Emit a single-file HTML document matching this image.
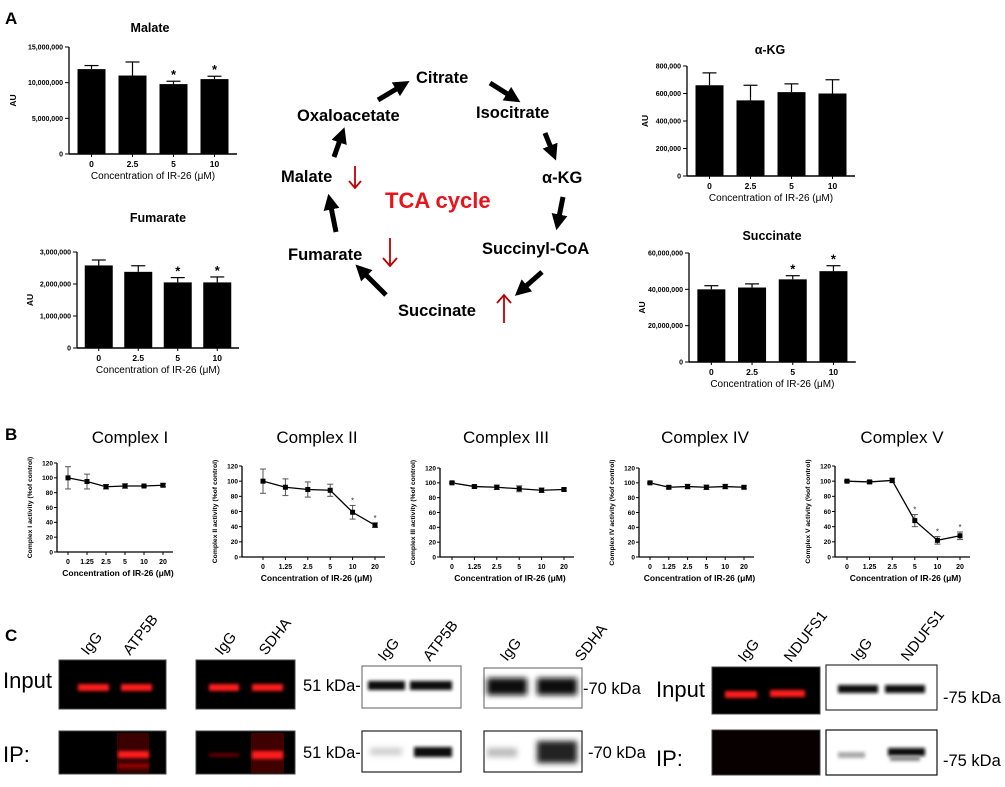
<!DOCTYPE html>
<html><head><meta charset="utf-8"><style>
html,body{margin:0;padding:0;background:#fff}
svg{display:block;font-family:"Liberation Sans",Arial,sans-serif}
</style></head><body>
<svg id="fig" width="1005" height="787" viewBox="0 0 1005 787" xmlns="http://www.w3.org/2000/svg">
<defs>
<filter id="blur1" x="-20%" y="-100%" width="140%" height="300%"><feGaussianBlur stdDeviation="1.6"/></filter>
<filter id="blur2" x="-20%" y="-100%" width="140%" height="300%"><feGaussianBlur stdDeviation="3"/></filter>
<marker id="ah" markerWidth="4" markerHeight="4" refX="2" refY="2" orient="auto" markerUnits="strokeWidth"><path d="M0,0 L4,2 L0,4 z" fill="#000"/></marker>
</defs>
<g id="root"></g>
</svg>
<script>
// ---------- data: panel A bar charts ----------
const barCats = ["0","2.5","5","10"];
const malateVals = [11900000, 11000000, 9800000, 10500000];
const malateErr = [500000, 1900000, 400000, 400000];
const malateSig = [false, false, true, true];
const malateTicks = [0, 5000000, 10000000, 15000000];
const malateTickLabels = ["0","5,000,000","10,000,000","15,000,000"];

const fumarateVals = [2580000, 2380000, 2050000, 2050000];
const fumarateErr = [170000, 190000, 150000, 170000];
const fumarateSig = [false, false, true, true];
const fumarateTicks = [0, 1000000, 2000000, 3000000];
const fumarateTickLabels = ["0","1,000,000","2,000,000","3,000,000"];

const akgVals = [660000, 550000, 610000, 600000];
const akgErr = [90000, 110000, 60000, 100000];
const akgSig = [false, false, false, false];
const akgTicks = [0, 200000, 400000, 600000, 800000];
const akgTickLabels = ["0","200,000","400,000","600,000","800,000"];

const succVals = [40000000, 41000000, 45500000, 50000000];
const succErr = [2000000, 2000000, 2000000, 3000000];
const succSig = [false, false, true, true];
const succTicks = [0, 20000000, 40000000, 60000000];
const succTickLabels = ["0","20,000,000","40,000,000","60,000,000"];

// ---------- data: panel B line charts ----------
const lineCats = ["0","1.25","2.5","5","10","20"];
const yTicksB = [0,20,40,60,80,100,120];
const c1Vals = [100, 95, 88, 89, 89, 90];
const c1Err = [15, 10, 3, 3, 1, 2];
const c1Sig = [false,false,false,false,false,false];
const c2Vals = [100, 92, 89, 88, 59, 42];
const c2Err = [16, 11, 10, 8, 9, 3];
const c2Sig = [false,false,false,false,true,true];
const c3Vals = [100, 95, 94, 92, 90, 91];
const c3Err = [1, 2, 3, 4, 3, 2];
const c3Sig = [false,false,false,false,false,false];
const c4Vals = [100, 94, 95, 94, 95, 94];
const c4Err = [1, 2, 3, 3, 3, 2];
const c4Sig = [false,false,false,false,false,false];
const c5Vals = [100, 99, 101, 48, 22, 28];
const c5Err = [1, 2, 3, 8, 5, 5];
const c5Sig = [false,false,false,true,true,true];

const NS = "http://www.w3.org/2000/svg";
const root = document.getElementById("root");
function mk(tag, attrs, parent, text){
  const e = document.createElementNS(NS, tag);
  for (const k in attrs) e.setAttribute(k, attrs[k]);
  if (text !== undefined) e.textContent = text;
  (parent || root).appendChild(e);
  return e;
}

// ---------- bar chart ----------
function barChart(o){
  const g = mk("g", {});
  
  
  const max = o.ticks[o.ticks.length-1];
  const ys = v => o.y0 - (v/max)*(o.y0-o.yTop);
  const xs = i => o.ax + 2 + o.step*(i+0.5);
  const axEnd = o.ax + 4 + o.step*o.vals.length;
  // title
  const t = mk("text", {x:o.tx, y:o.ty, "text-anchor":"middle", "font-size":"12.5", "font-weight":"bold"}, g, o.title);
  
  
  // bars
  o.vals.forEach((v,i)=>{
    const top = ys(v), eTop = ys(v+o.err[i]);
    const ln = mk("line", {x1:xs(i), x2:xs(i), y1:top, y2:eTop, stroke:"#000", "stroke-width":"1.2"}, g);
    
    
    mk("line", {x1:xs(i)-7, x2:xs(i)+7, y1:eTop, y2:eTop, stroke:"#000", "stroke-width":"1.2"}, g);
    const r = mk("rect", {x:xs(i)-14, y:top, width:28, height:o.y0-top, fill:"#000"}, g);
    
    
    if (o.sig[i]) {
      const s = mk("text", {x:xs(i), y:eTop-2, "text-anchor":"middle", "font-size":"13", "font-weight":"bold"}, g, "*");
      
      
    }
    const xl = mk("text", {x:xs(i), y:o.y0+13, "text-anchor":"middle", "font-size":"8.5", "font-weight":"bold"}, g, barCats[i]);
    
    
    mk("line", {x1:xs(i), x2:xs(i), y1:o.y0, y2:o.y0+3, stroke:"#000", "stroke-width":"1"}, g);
  });
  // axes
  mk("line", {x1:o.ax, x2:o.ax, y1:o.yTop, y2:o.y0, stroke:"#000", "stroke-width":"1.3"}, g);
  const xa = mk("line", {x1:o.ax, x2:axEnd, y1:o.y0, y2:o.y0, stroke:"#000", "stroke-width":"1.6"}, g);
  
  
  o.ticks.forEach((v,i)=>{
    mk("line", {x1:o.ax-4, x2:o.ax, y1:ys(v), y2:ys(v), stroke:"#000", "stroke-width":"1"}, g);
    const tl = mk("text", {x:o.ax-6, y:ys(v)+2.5, "text-anchor":"end", "font-size":"7", "font-weight":"bold"}, g, o.tickLabels[i]);
    
    
  });
  const yl = mk("text", {x:0, y:0, "text-anchor":"middle", "font-size":"8.5", "font-weight":"bold", transform:`translate(${o.aux},${(o.y0+o.yTop)/2}) rotate(-90)`}, g, "AU");
  
  
  const xt = mk("text", {x:(o.ax+axEnd)/2, y:o.y0+25, "text-anchor":"middle", "font-size":"10"}, g, "Concentration of IR-26 (\u03bcM)");
  
  
}
barChart({name:"malate", title:"Malate", tx:150, ty:32, ax:69, y0:154, yTop:47, step:41, aux:16, vals:malateVals, err:malateErr, sig:malateSig, ticks:malateTicks, tickLabels:malateTickLabels});
barChart({name:"fumarate", title:"Fumarate", tx:158, ty:222, ax:77, y0:348, yTop:252, step:39.5, aux:33, vals:fumarateVals, err:fumarateErr, sig:fumarateSig, ticks:fumarateTicks, tickLabels:fumarateTickLabels});
barChart({name:"alpha-kg", title:"\u03b1-KG", tx:770, ty:54, ax:687, y0:176, yTop:66, step:41, aux:648, vals:akgVals, err:akgErr, sig:akgSig, ticks:akgTicks, tickLabels:akgTickLabels});
barChart({name:"succinate", title:"Succinate", tx:772, ty:240, ax:689, y0:362, yTop:253, step:40.7, aux:645, vals:succVals, err:succErr, sig:succSig, ticks:succTicks, tickLabels:succTickLabels});

// ---------- line chart ----------
function lineChart(o){
  const g = mk("g", {});
  
  
  const ys = v => o.y0 - (v/120)*(o.y0-o.yTop);
  const xs = i => o.ax + o.pad + o.step*i;
  const axEnd = xs(lineCats.length-1) + 10;
  const t = mk("text", {x:o.tx, y:443, "text-anchor":"middle", "font-size":"17"}, g, o.title);
  
  
  mk("line", {x1:o.ax, x2:o.ax, y1:o.yTop, y2:o.y0, stroke:"#000", "stroke-width":"1.3"}, g);
  mk("line", {x1:o.ax, x2:axEnd, y1:o.y0, y2:o.y0, stroke:"#000", "stroke-width":"1.3"}, g);
  yTicksB.forEach(v=>{
    mk("line", {x1:o.ax-3, x2:o.ax, y1:ys(v), y2:ys(v), stroke:"#000", "stroke-width":"1"}, g);
    const tl = mk("text", {x:o.ax-4, y:ys(v)+2.3, "text-anchor":"end", "font-size":"6.5", "font-weight":"bold"}, g, String(v));
    
    
  });
  let d = "";
  o.vals.forEach((v,i)=>{ d += (i?"L":"M") + xs(i) + "," + ys(v); });
  const p = mk("path", {d:d, fill:"none", stroke:"#000", "stroke-width":"1.3"}, g);
  
  
  o.vals.forEach((v,i)=>{
    const x = xs(i), y1 = ys(v+o.err[i]), y2 = ys(v-o.err[i]);
    mk("line", {x1:x, x2:x, y1:y1, y2:y2, stroke:"#555", "stroke-width":"1"}, g);
    mk("line", {x1:x-3, x2:x+3, y1:y1, y2:y1, stroke:"#555", "stroke-width":"1"}, g);
    mk("line", {x1:x-3, x2:x+3, y1:y2, y2:y2, stroke:"#555", "stroke-width":"1"}, g);
    const m = mk("rect", {x:x-2.5, y:ys(v)-2.5, width:5, height:5, fill:"#000"}, g);
    
    
    if (o.sig[i]) mk("text", {x:x, y:y1-2, "text-anchor":"middle", "font-size":"8", fill:"#333"}, g, "*");
    mk("line", {x1:x, x2:x, y1:o.y0, y2:o.y0+3, stroke:"#000", "stroke-width":"1"}, g);
    const xl = mk("text", {x:x, y:o.y0+12, "text-anchor":"middle", "font-size":"7", "font-weight":"bold"}, g, lineCats[i]);
    
    
  });
  const yl = mk("text", {x:0, y:0, "text-anchor":"middle", "font-size":"6.8", "font-weight":"bold", transform:`translate(${o.ax-25},${(o.y0+o.yTop)/2}) rotate(-90)`}, g, o.ylabel);
  
  
  const xt = mk("text", {x:(o.ax+axEnd)/2+3, y:o.y0+24, "text-anchor":"middle", "font-size":"8.5", "font-weight":"bold"}, g, "Concentration of IR-26 (\u03bcM)");
  
  
}
lineChart({name:"complex-i", title:"Complex I", tx:130, ax:57, y0:552, yTop:463, pad:11, step:19, vals:c1Vals, err:c1Err, sig:c1Sig, ylabel:"Complex I activity (%of control)"});
lineChart({name:"complex-ii", title:"Complex II", tx:317, ax:242, y0:557, yTop:466, pad:21, step:22.4, vals:c2Vals, err:c2Err, sig:c2Sig, ylabel:"Complex II activity (%of control)"});
lineChart({name:"complex-iii", title:"Complex III", tx:506, ax:440, y0:557, yTop:468, pad:12, step:22.4, vals:c3Vals, err:c3Err, sig:c3Sig, ylabel:"Complex III activity (%of control)"});
lineChart({name:"complex-iv", title:"Complex IV", tx:705, ax:639, y0:557, yTop:468, pad:11, step:18.8, vals:c4Vals, err:c4Err, sig:c4Sig, ylabel:"Complex IV activity (%of control)"});
lineChart({name:"complex-v", title:"Complex V", tx:902, ax:835, y0:557, yTop:466, pad:12, step:22.6, vals:c5Vals, err:c5Err, sig:c5Sig, ylabel:"Complex V activity (%of control)"});
</script>

<!-- static parts appended via markup in a second svg overlay -->
<svg style="position:absolute;left:0;top:0" width="1005" height="787" viewBox="0 0 1005 787" xmlns="http://www.w3.org/2000/svg" font-family="Liberation Sans, Arial, sans-serif">
<defs>
<filter id="b1" x="-20%" y="-150%" width="140%" height="400%"><feGaussianBlur stdDeviation="1.5"/></filter>
<filter id="b2" x="-20%" y="-150%" width="140%" height="400%"><feGaussianBlur stdDeviation="2.8"/></filter>
<marker id="arr" markerWidth="3.2" markerHeight="3.2" refX="0.5" refY="1.6" orient="auto"><path d="M0,0 L3.2,1.6 L0,3.2 z" fill="#000"/></marker>
</defs>
<text x="5" y="24" font-size="17" font-weight="bold">A</text>
<text x="5" y="440" font-size="17" font-weight="bold">B</text>
<text x="5" y="641" font-size="17" font-weight="bold">C</text>

<!-- TCA cycle -->
<g font-weight="bold" font-size="16.5">
<text x="416" y="83">Citrate</text>
<text x="297" y="121">Oxaloacetate</text>
<text x="476" y="118">Isocitrate</text>
<text x="542" y="183">α-KG</text>
<text x="281" y="182">Malate</text>
<text x="288" y="260">Fumarate</text>
<text x="482" y="254">Succinyl-CoA</text>
<text x="398" y="316">Succinate</text>
<text x="385" y="208" font-size="22" fill="#e8141c">TCA cycle</text>
<g stroke="#000" stroke-width="5" marker-end="url(#arr)">
<line x1="378" y1="100" x2="398" y2="88"/>
<line x1="490" y1="83" x2="509" y2="95"/>
<line x1="545" y1="133" x2="551" y2="148"/>
<line x1="563" y1="197" x2="559" y2="217"/>
<line x1="542" y1="272" x2="525" y2="287"/>
<line x1="386" y1="295" x2="365" y2="274"/>
<line x1="336" y1="232" x2="331" y2="207"/>
<line x1="334" y1="157" x2="340" y2="140"/>
</g>
<g stroke="#c00000" stroke-width="1.8" fill="none">
<path d="M355,166 V188 M349,181 L355,188 L361,181"/>
<path d="M390,238 V266 M383,258 L390,266 L397,258"/>
<path d="M504,323 V295 M497,303 L504,295 L511,303"/>
</g>
</g>

<!-- Panel C blots -->
<g>
<text x="3" y="688" font-size="22">Input</text>
<text x="3" y="762" font-size="22">IP:</text>
<text x="656" y="697" font-size="22">Input</text>
<text x="656" y="766" font-size="22">IP:</text>
<g font-size="15">
<text transform="translate(88,656) rotate(-52)">IgG</text>
<text transform="translate(130,656) rotate(-52)">ATP5B</text>
<text transform="translate(222,656) rotate(-52)">IgG</text>
<text transform="translate(266,656) rotate(-52)">SDHA</text>
<text transform="translate(385,662) rotate(-52)">IgG</text>
<text transform="translate(430,662) rotate(-52)">ATP5B</text>
<text transform="translate(507,662) rotate(-52)">IgG</text>
<text transform="translate(582,662) rotate(-52)">SDHA</text>
<text transform="translate(745,663) rotate(-52)">IgG</text>
<text transform="translate(791,663) rotate(-52)">NDUFS1</text>
<text transform="translate(858,662) rotate(-52)">IgG</text>
<text transform="translate(908,662) rotate(-52)">NDUFS1</text>
</g>
<g font-size="16.5">
<text x="303" y="691">51 kDa-</text>
<text x="303" y="758">51 kDa-</text>
<text x="583" y="694">-70 kDa</text>
<text x="588" y="758">-70 kDa</text>
<text x="943" y="703">-75 kDa</text>
<text x="943" y="766">-75 kDa</text>
</g>
<!-- red blots -->
<rect x="59" y="660" width="107" height="49" fill="#000" stroke="#444"/>
<rect x="78" y="684" width="31" height="7" fill="#ff1a1a" filter="url(#b1)"/>
<rect x="121" y="684" width="31" height="7" fill="#ff1a1a" filter="url(#b1)"/>
<rect x="59" y="731" width="107" height="43" fill="#000" stroke="#444"/>
<rect x="117" y="733" width="32" height="40" fill="#3a0000"/>
<rect x="118" y="751" width="31" height="7" fill="#ff1a1a" filter="url(#b1)"/>
<rect x="118" y="764" width="31" height="4" fill="#a00000" filter="url(#b1)"/>
<rect x="196" y="660" width="99" height="49" fill="#000" stroke="#444"/>
<rect x="209" y="684" width="30" height="7" fill="#ff1a1a" filter="url(#b1)"/>
<rect x="252" y="684" width="31" height="7" fill="#ff1a1a" filter="url(#b1)"/>
<rect x="196" y="731" width="99" height="43" fill="#000" stroke="#444"/>
<rect x="251" y="733" width="33" height="40" fill="#400000"/>
<rect x="209" y="753" width="30" height="4" fill="#600000" filter="url(#b1)"/>
<rect x="252" y="751" width="31" height="8" fill="#ff1a1a" filter="url(#b1)"/>
<rect x="712" y="667" width="108" height="47" fill="#000" stroke="#444"/>
<rect x="725" y="691" width="32" height="7" fill="#ff1a1a" filter="url(#b1)"/>
<rect x="770" y="690" width="35" height="7" fill="#ff1a1a" filter="url(#b1)"/>
<rect x="712" y="730" width="108" height="45" fill="#080000" stroke="#444"/>
<!-- western blots -->
<rect x="362" y="666" width="99" height="42" fill="#fff" stroke="#777" stroke-width="1.2"/>
<rect x="368" y="681" width="37" height="9" fill="#111" filter="url(#b1)"/>
<rect x="410" y="681" width="42" height="9" fill="#111" filter="url(#b1)"/>
<rect x="362" y="731" width="99" height="41" fill="#fff" stroke="#222" stroke-width="1.2"/>
<rect x="370" y="748" width="32" height="7" fill="#ccc" filter="url(#b2)"/>
<rect x="414" y="747" width="38" height="10" fill="#111" filter="url(#b1)"/>
<rect x="484" y="668" width="98" height="40" fill="#fff" stroke="#777" stroke-width="1.2"/>
<rect x="487" y="678" width="40" height="17" fill="#111" filter="url(#b2)"/>
<rect x="537" y="678" width="40" height="17" fill="#111" filter="url(#b2)"/>
<rect x="484" y="731" width="98" height="41" fill="#fff" stroke="#222" stroke-width="1.2"/>
<rect x="487" y="748" width="30" height="9" fill="#bbb" filter="url(#b2)"/>
<rect x="537" y="741" width="40" height="22" fill="#222" filter="url(#b2)"/>
<rect x="826" y="665" width="111" height="45" fill="#fff" stroke="#333" stroke-width="1.2"/>
<rect x="838" y="685" width="40" height="8" fill="#111" filter="url(#b1)"/>
<rect x="885" y="685" width="40" height="8" fill="#111" filter="url(#b1)"/>
<rect x="826" y="730" width="111" height="45" fill="#fff" stroke="#111" stroke-width="1.2"/>
<rect x="838" y="752" width="27" height="6" fill="#aaa" filter="url(#b1)"/>
<rect x="888" y="748" width="37" height="8" fill="#111" filter="url(#b1)"/>
<rect x="890" y="756" width="30" height="5" fill="#888" filter="url(#b1)"/>
</g>
</svg>
</body></html>
